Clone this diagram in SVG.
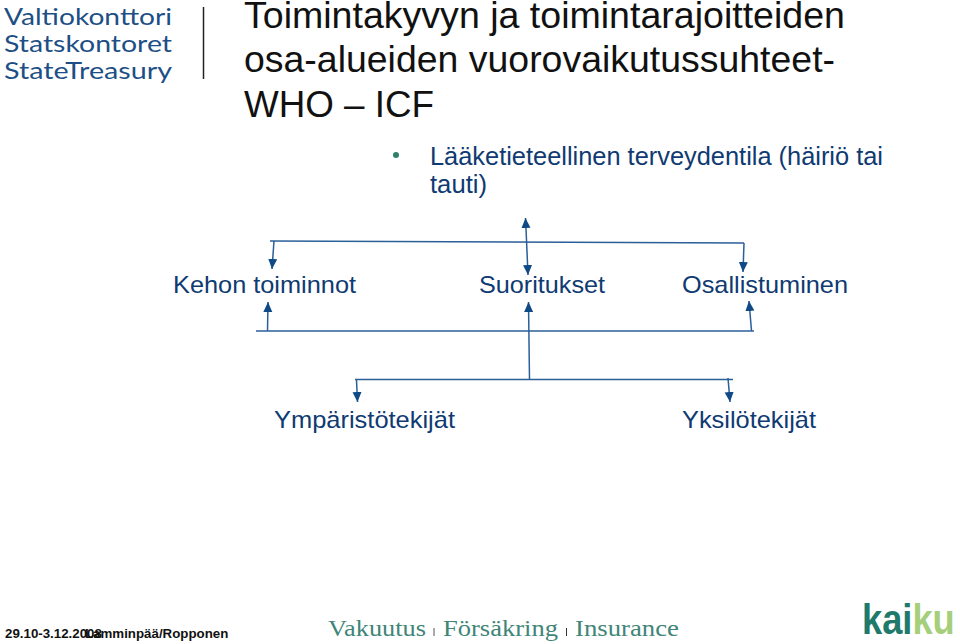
<svg xmlns="http://www.w3.org/2000/svg" width="960" height="644" viewBox="0 0 960 644">
<defs>
<marker id="a" markerUnits="userSpaceOnUse" markerWidth="12" markerHeight="12" refX="10" refY="4.500" orient="auto"><path d="M0 0L10 4.500L0 9Z" fill="#0f4a86"/></marker>
</defs>
<style>
text{font-family:"Liberation Sans",Arial,sans-serif}
.t{font-size:36.500px;fill:#111}
.b{font-size:25px;fill:#0f3a72}
.l{font-size:24px;fill:#0f3a72}
.c{stroke:#2a5f98;stroke-width:1.500;fill:none}
.r{marker-end:url(#a)}
.logo{font-family:Lato,sans-serif;font-size:22.400px;fill:#1d4f86}
.ins{font-family:"Liberation Serif",serif;font-size:23.500px;fill:#3f8578}
</style>
<rect width="960" height="644" fill="#fff"/>
<g id="logo-treasury">
<text class="logo" x="4" y="25" textLength="168" lengthAdjust="spacingAndGlyphs">Valtiokonttori</text>
<text class="logo" x="4" y="52" textLength="168" lengthAdjust="spacingAndGlyphs">Statskontoret</text>
<text class="logo" x="4" y="79" textLength="168" lengthAdjust="spacingAndGlyphs">StateTreasury</text>
<line x1="203.500" y1="7" x2="203.500" y2="79" stroke="#222" stroke-width="1.500"/>
</g>
<g id="title">
<text class="t" x="244" y="28" textLength="601" lengthAdjust="spacingAndGlyphs">Toimintakyvyn ja toimintarajoitteiden</text>
<text class="t" x="244" y="72" textLength="591" lengthAdjust="spacingAndGlyphs">osa-alueiden vuorovaikutussuhteet-</text>
<text class="t" x="244" y="117" textLength="190" lengthAdjust="spacingAndGlyphs">WHO – ICF</text>
</g>
<g id="bullet">
<circle cx="396" cy="155" r="3" fill="#2e8068"/>
<text class="b" x="430" y="165" textLength="453" lengthAdjust="spacingAndGlyphs">Lääketieteellinen terveydentila (häiriö tai</text>
<text class="b" x="430" y="193" textLength="57" lengthAdjust="spacingAndGlyphs">tauti)</text>
</g>
<g id="connectors">
<path class="c" d="M270 241L744 243"/>
<path class="c r" d="M274 241L272 269"/>
<path class="c r" d="M526.500 240L525.500 218"/>
<path class="c r" d="M526.500 240L528 275"/>
<path class="c r" d="M744 243L743 272"/>
<path class="c" d="M256 331H754"/>
<path class="c r" d="M267.500 331L268 302"/>
<path class="c r" d="M529.500 380L528.500 302"/>
<path class="c r" d="M751.500 331L749 301"/>
<path class="c" d="M355 379.500H733"/>
<path class="c r" d="M356.500 380L357.500 402"/>
<path class="c r" d="M728 378L730 402"/>
</g>
<g id="node-kehon"><text class="l" x="173" y="293" textLength="183" lengthAdjust="spacingAndGlyphs">Kehon toiminnot</text></g>
<g id="node-suoritukset"><text class="l" x="479" y="293" textLength="126" lengthAdjust="spacingAndGlyphs">Suoritukset</text></g>
<g id="node-osallistuminen"><text class="l" x="682" y="293" textLength="166" lengthAdjust="spacingAndGlyphs">Osallistuminen</text></g>
<g id="node-ymparisto"><text class="l" x="274" y="428" textLength="181" lengthAdjust="spacingAndGlyphs">Ympäristötekijät</text></g>
<g id="node-yksilo"><text class="l" x="682" y="428" textLength="134" lengthAdjust="spacingAndGlyphs">Yksilötekijät</text></g>
<g id="footer">
<text x="5" y="638" font-size="13.300" font-weight="700" fill="#111">29.10-3.12.2008</text>
<text x="85" y="638" font-size="13.300" font-weight="700" fill="#111">Lamminpää/Ropponen</text>
<text class="ins" x="328" y="636" textLength="98" lengthAdjust="spacingAndGlyphs">Vakuutus</text>
<text class="ins" x="443" y="636" textLength="115" lengthAdjust="spacingAndGlyphs">Försäkring</text>
<text class="ins" x="575" y="636" textLength="104" lengthAdjust="spacingAndGlyphs">Insurance</text>
<line x1="434" y1="628" x2="434" y2="636" stroke="#555"/>
<line x1="566.500" y1="628" x2="566.500" y2="636" stroke="#333"/>
</g>
<g id="logo-kaiku">
<text transform="translate(862 634) scale(.98 1.13)" font-size="37" font-weight="700" fill="#1f7a6c">kai<tspan fill="#a5cf7a">ku</tspan></text>
</g>
</svg>
